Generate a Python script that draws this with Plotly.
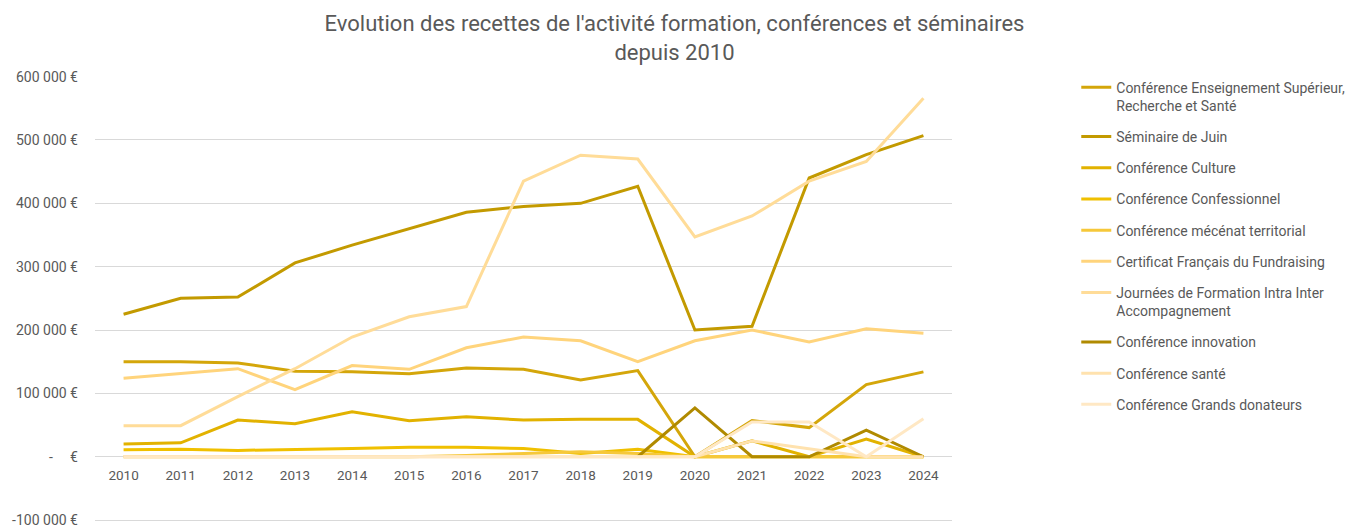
import plotly.graph_objects as go

years = list(range(2010, 2025))

series_names = [
    "Conférence Enseignement Supérieur,<br>Recherche et Santé",
    "Séminaire de Juin",
    "Conférence Culture",
    "Conférence Confessionnel",
    "Conférence mécénat territorial",
    "Certificat Français du Fundraising",
    "Journées de Formation Intra Inter<br>Accompagnement",
    "Conférence innovation",
    "Conférence santé",
    "Conférence Grands donateurs",
]

ens_sup = [150000, 150000, 148000, 135000, 134000, 131000, 140000, 138000, 121000, 136000, 0, 57000, 46000, 114000, 134000]
seminaire_juin = [225000, 250000, 252000, 306000, 334000, 360000, 386000, 395000, 400000, 427000, 200000, 206000, 440000, 477000, 507000]
culture = [20000, 22000, 58000, 52000, 71000, 57000, 63000, 58000, 59000, 59000, 0, 25000, 0, 28000, 0]
confessionnel = [11000, 12000, 10000, 11000, 13000, 15000, 15000, 13000, 5000, 12000, 0, 0, 0, 0, 0]
mecenat = [0, 0, 0, 0, 0, 0, 2000, 5000, 8000, 5000, 0, 0, 0, 0, 0]
certificat = [124000, 132000, 139000, 106000, 144000, 138000, 172000, 189000, 183000, 150000, 183000, 200000, 181000, 202000, 195000]
journees = [49000, 49000, 95000, 139000, 189000, 221000, 237000, 435000, 476000, 470000, 347000, 380000, 435000, 466000, 566000]
innovation = [None, None, None, None, None, None, None, None, None, 0, 77000, 0, 0, 42000, 0]
sante = [0, 0, 0, 0, 0, 0, 0, 0, 0, 0, 0, 25000, 12000, 0, 0]
grands_donateurs = [0, 0, 0, 0, 0, 0, 0, 0, 0, 0, 0, 55000, 55000, 0, 60000]

series_values = [ens_sup, seminaire_juin, culture, confessionnel, mecenat,
                 certificat, journees, innovation, sante, grands_donateurs]

series_colors = ["#D4A60A", "#C39A00", "#E2B200", "#F0C000", "#F6C83A",
                 "#FFD47C", "#FFDC98", "#B08A00", "#FFE2AE", "#FFE8C4"]

y_tick_vals = [-100000, 0, 100000, 200000, 300000, 400000, 500000, 600000]
nb = "\u00a0"
y_tick_text = ["-100 000 €", "-" + nb * 5 + "€", "100 000 €", "200 000 €",
               "300 000 €", "400 000 €", "500 000 €", "600 000 €"]
y_range = [-103000, 601000]

title_text = ("Evolution des recettes de l'activité formation, conférences et séminaires"
              "<br>depuis 2010")

font_family = "Roboto, 'DejaVu Sans', sans-serif"
text_color = "#595959"

fig = go.Figure()
for name, vals, col in zip(series_names, series_values, series_colors):
    fig.add_trace(go.Scatter(
        x=years, y=vals, name=name, mode="lines",
        line=dict(color=col, width=3),
        legendgroup=name,
    ))

zero_pos = (0 - y_range[0]) / (y_range[1] - y_range[0])

fig.update_layout(
    width=1349, height=527,
    paper_bgcolor="white", plot_bgcolor="white",
    margin=dict(l=95, r=397, t=76, b=5, autoexpand=False),
    font=dict(family=font_family, color=text_color, size=13),
    title=dict(text=title_text, x=0.5, xref="container", xanchor="center",
               y=0.941, yref="container", yanchor="top",
               font=dict(size=22, color=text_color, family=font_family)),
    showlegend=True,
    legend=dict(x=1.145, xanchor="left", y=1.01, yanchor="top",
                font=dict(size=14, color=text_color, family=font_family),
                tracegroupgap=10, valign="top", itemwidth=30, maxheight=470,
                bgcolor="rgba(0,0,0,0)"),
    xaxis=dict(range=[2009.5, 2024.5], tickvals=years, ticktext=[str(y) for y in years],
               showgrid=False, zeroline=False, showline=False,
               anchor="free", position=zero_pos, ticks="", ticklabelstandoff=9,
               tickfont=dict(size=13.5, color=text_color)),
    yaxis=dict(range=y_range, tickvals=y_tick_vals, ticktext=y_tick_text,
               showgrid=True, gridcolor="#D9D9D9", gridwidth=1,
               zeroline=False, showline=False, ticks="", ticklabelstandoff=16,
               ticklabeloverflow="allow",
               tickfont=dict(size=14, color=text_color)),
)

fig.write_html("out.html", config={"displayModeBar": False},
               post_script="document.body.style.margin='0';")
